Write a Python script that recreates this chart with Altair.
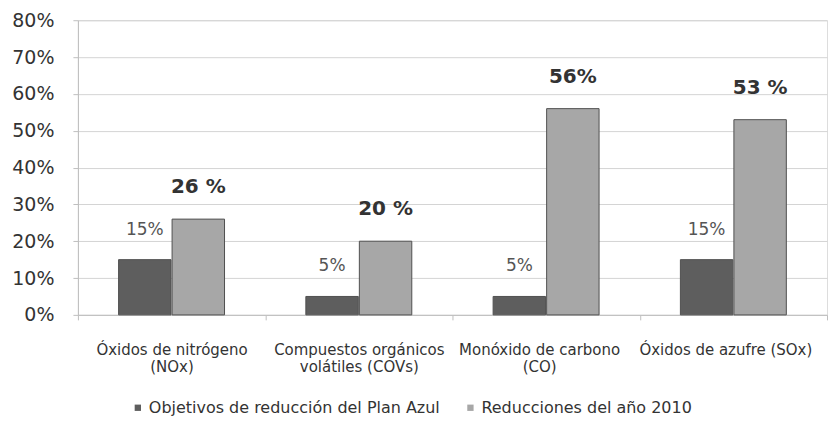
import altair as alt
import pandas as pd

categories = ["Óxidos de nitrógeno|(NOx)", "Compuestos orgánicos|volátiles (COVs)",
              "Monóxido de carbono|(CO)", "Óxidos de azufre (SOx)"]
series = ["Objetivos de reducción del Plan Azul", "Reducciones del año 2010"]
objetivos = [15, 5, 5, 15]
reducciones = [26, 20, 56, 53]
labels_obj = ["15%", "5%", "5%", "15%"]
labels_red = ["26 %", "20 %", "56%", "53 %"]

rows = []
for c, v, l in zip(categories, objetivos, labels_obj):
    rows.append({"cat": c, "serie": series[0], "val": v, "lab": l})
for c, v, l in zip(categories, reducciones, labels_red):
    rows.append({"cat": c, "serie": series[1], "val": v, "lab": l})
df = pd.DataFrame(rows)

x = alt.X("cat:N", sort=categories, title=None,
          scale=alt.Scale(paddingInner=0, paddingOuter=0),
          axis=alt.Axis(labelExpr="split(datum.label, '|')", labelAngle=0,
                        labelFont="DejaVu Sans", labelFontSize=15,
                        labelColor="#333333", labelLineHeight=17,
                        labelOffset={"condition": [
                            {"test": "datum.index > 0.9", "value": -8},
                            {"test": "datum.index > 0.5", "value": -7}],
                            "value": 0},
                        tickBand="extent", tickSize=5, tickColor="#bfbfbf",
                        domainColor="#bfbfbf", labelPadding=23, grid=False,
                        labelLimit=0))
xo = alt.XOffset("serie:N", sort=series,
                 scale=alt.Scale(paddingOuter=0.76, paddingInner=0.02))
y = alt.Y("val:Q", title=None,
          scale=alt.Scale(domain=[0, 80]),
          axis=alt.Axis(values=[0, 10, 20, 30, 40, 50, 60, 70, 80],
                        labelExpr="datum.value + '%'",
                        labelFont="DejaVu Sans", labelFontSize=19,
                        labelColor="#333333", labelPadding=19,
                        tickSize=5, tickColor="#bfbfbf", domainColor="#bfbfbf",
                        gridColor="#d4d4d4"))

base = alt.Chart(df)

bars = base.mark_bar(stroke="#505050", strokeWidth=1).encode(
    x=x, xOffset=xo, y=y,
    color=alt.Color("serie:N", sort=series,
                    scale=alt.Scale(domain=series, range=["#5e5e5e", "#a7a7a7"]),
                    legend=alt.Legend(title=None, orient="none", direction="horizontal",
                                      legendX=52, legendY=380, padding=0,
                                      symbolType="square", symbolSize=40,
                                      symbolStrokeWidth=0,
                                      labelFont="DejaVu Sans", labelFontSize=16,
                                      labelColor="#333333", columnPadding=22,
                                      labelOffset=3, labelLimit=0)),
)

t1 = base.transform_filter(alt.datum.serie == series[0]).mark_text(
    dy=-30, font="DejaVu Sans", fontSize=17, color="#555555", baseline="middle"
).encode(x=x, xOffset=xo, y=y, text="lab:N")

t2 = base.transform_filter(alt.datum.serie == series[1]).mark_text(
    dy=-32, font="DejaVu Sans", fontSize=20, fontWeight="bold", color="#333333",
    baseline="middle"
).encode(x=x, xOffset=xo, y=y, text="lab:N")

chart = alt.layer(bars, t1, t2).properties(
    width=750, height=295,
    padding={"left": 3, "top": 3, "right": 0, "bottom": 0},
).configure_view(stroke=None).configure(background="white")

chart.save("out.html", embed_options={"renderer": "svg", "actions": False})
